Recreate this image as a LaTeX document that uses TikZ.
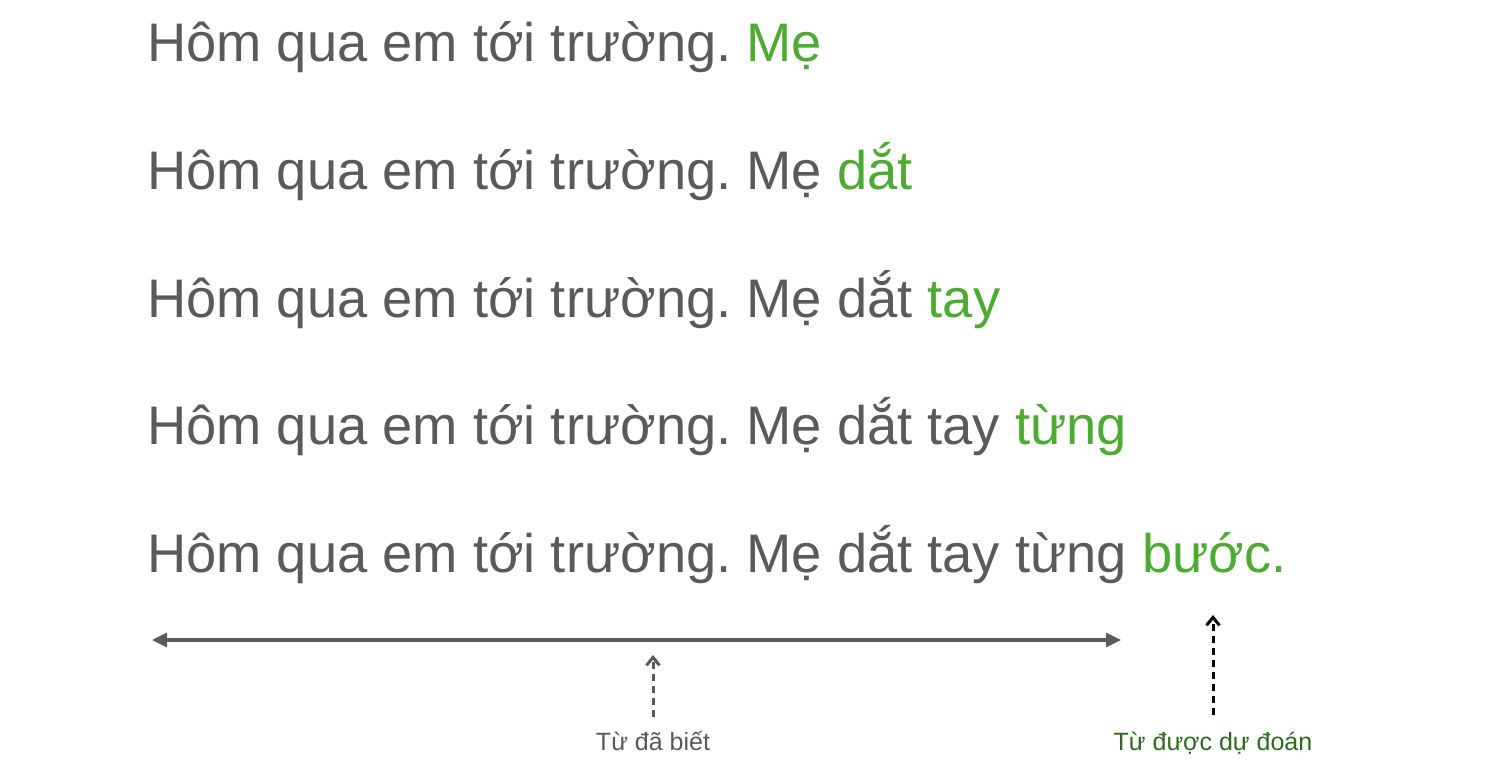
\documentclass[tikz,border=0pt]{standalone}
\usepackage{fontspec}
\setmainfont{Liberation Sans}
\usetikzlibrary{arrows.meta}
\definecolor{textgray}{HTML}{5A5A5A}
\definecolor{newgreen}{HTML}{4DAA32}
\definecolor{labelgreen}{HTML}{2E6B1E}
\frenchspacing
\tikzset{
	row/.style={anchor=base west, inner sep=0pt, text=textgray, font=\fontsize{54.3}{66}\selectfont},
	note/.style={anchor=base, inner sep=0pt, font=\fontsize{25}{30}\selectfont},
	pointer/.style={line width=3pt, dash pattern=on 7pt off 5pt, -{Straight Barb[length=8pt,width=13pt,line width=3pt]}},
}
\begin{document}
\begin{tikzpicture}[x=1pt, y=-1pt, line join=round]
	\useasboundingbox (0,0) rectangle (1508,776);
	\foreach \i/\txt/\nxt in {
			1/{Hôm qua em tới trường.}/Mẹ,
			2/{Hôm qua em tới trường. Mẹ}/dắt,
			3/{Hôm qua em tới trường. Mẹ dắt}/tay,
			4/{Hôm qua em tới trường. Mẹ dắt tay}/từng,
			5/{Hôm qua em tới trường. Mẹ dắt tay từng}/bước.} {
			\node[row] (row\i) at (147,{62+127.5*(\i-1)}) {\txt{} \textcolor{newgreen}{\nxt}};
		}
	% span of the known words
	\path (152,640) coordinate (spanL)
	(1121,640) coordinate (spanR);
	\draw[textgray, line width=3.2pt, {Triangle[length=15pt,width=14pt]}-{Triangle[length=15pt,width=14pt]}] (spanL) -- (spanR);
	\node[note, text=textgray] (known) at (653,750) {Từ đã biết};
	\node[note, text=labelgreen] (guess) at (1213,750) {Từ được dự đoán};
	\path (653,655) coordinate (knownTip)
	(1213,615) coordinate (guessTip);
	\draw[pointer, textgray] ([yshift=14pt]known.north) -- (knownTip);
	\draw[pointer, black] ([yshift=16pt]guess.north) -- (guessTip);
\end{tikzpicture}
\end{document}
